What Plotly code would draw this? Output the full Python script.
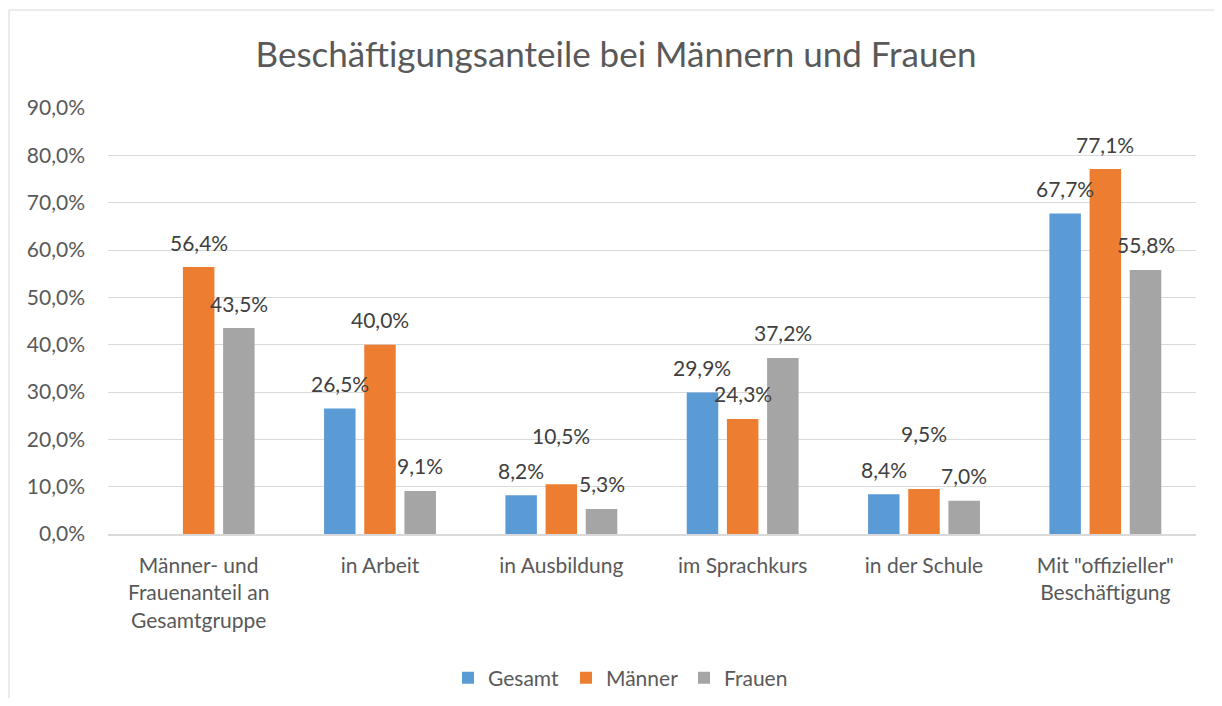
import plotly.graph_objects as go

categories = [
    "Männer- und<br>Frauenanteil an<br>Gesamtgruppe",
    "in Arbeit",
    "in Ausbildung",
    "im Sprachkurs",
    "in der Schule",
    "Mit \"offizieller\"<br>Beschäftigung",
]
gesamt = [None, 0.265, 0.082, 0.299, 0.084, 0.677]
maenner = [0.564, 0.400, 0.105, 0.243, 0.095, 0.771]
frauen = [0.435, 0.091, 0.053, 0.372, 0.070, 0.558]
series_names = ["Gesamt", "Männer", "Frauen"]
series_values = [gesamt, maenner, frauen]
colors = ["#5B9BD5", "#ED7D31", "#A5A5A5"]

# label placement (style): pixel offsets
series_xshift = [-40.2, 0, 40.2]
label_extra_yshift = [
    [0, 0, 0, 0, 0, 0],
    [0, 0, 24, 0, 31, 0],
    [0, 0, 0, 0, 0, 0],
]
BASE_YSHIFT = 25

FONT = "Lato, Carlito, Calibri, sans-serif"
TXT = "#595959"

# page body has an 8px margin; figure is sized so it fits the window
W, H = 1206, 690
L, R, T, B = 100, 18, 100, 164
PH = H - T - B
PW = W - L - R

fig = go.Figure()
for name, vals, col in zip(series_names, series_values, colors):
    fig.add_trace(go.Bar(name=name, x=categories, y=vals, marker_color=col,
                         marker_line_width=0, hoverinfo="skip"))

def fmt(v):
    return f"{v*100:.1f}%".replace(".", ",")

annotations = []
for si, vals in enumerate(series_values):
    for ci, v in enumerate(vals):
        if v is None:
            continue
        annotations.append(dict(
            x=categories[ci], y=v, xref="x", yref="y", text=fmt(v),
            showarrow=False, xshift=series_xshift[si],
            yshift=BASE_YSHIFT + label_extra_yshift[si][ci],
            xanchor="center", yanchor="middle",
            font=dict(family=FONT, size=21, color="#404040"),
        ))

fig.update_layout(
    width=W, height=H,
    margin=dict(l=L, r=R, t=T, b=B, autoexpand=False),
    paper_bgcolor="white", plot_bgcolor="white",
    separators=",.",
    barmode="group", bargap=0.335, bargroupgap=0.216,
    font=dict(family=FONT, size=21, color=TXT),
    title=dict(text="Beschäftigungsanteile bei Männern und Frauen",
               x=608 / W, xanchor="center", y=1 - 47 / H, yanchor="middle",
               font=dict(family=FONT, size=35, color=TXT)),
    legend=dict(orientation="h", xref="container", yref="container",
                x=617 / W, xanchor="center",
                y=1 - 670 / H, yanchor="middle", entrywidth=73,
                font=dict(family=FONT, size=21, color=TXT)),
    annotations=annotations,
    showlegend=True,
    shapes=[dict(type="rect", xref="paper", yref="paper",
                 x0=(1 - L) / PW, x1=1.5, y0=-1.0, y1=(H - B - 2) / PH,
                 line=dict(color="#D9D9D9", width=1), fillcolor="rgba(0,0,0,0)",
                 layer="below")],
)
fig.update_yaxes(range=[0, 0.9], dtick=0.1, tickformat=".1%",
                 showgrid=True, gridcolor="#D9D9D9", gridwidth=1,
                 zeroline=False, showline=False, ticks="", automargin=False,
                 ticklabelstandoff=22,
                 tickfont=dict(family=FONT, size=21, color=TXT), fixedrange=True)
fig.update_xaxes(showline=True, linecolor="#D9D9D9", linewidth=1.5,
                 showgrid=False, ticks="", ticklabelstandoff=12, automargin=False,
                 tickfont=dict(family=FONT, size=21, color=TXT), fixedrange=True)

fig.write_html("out.html")
